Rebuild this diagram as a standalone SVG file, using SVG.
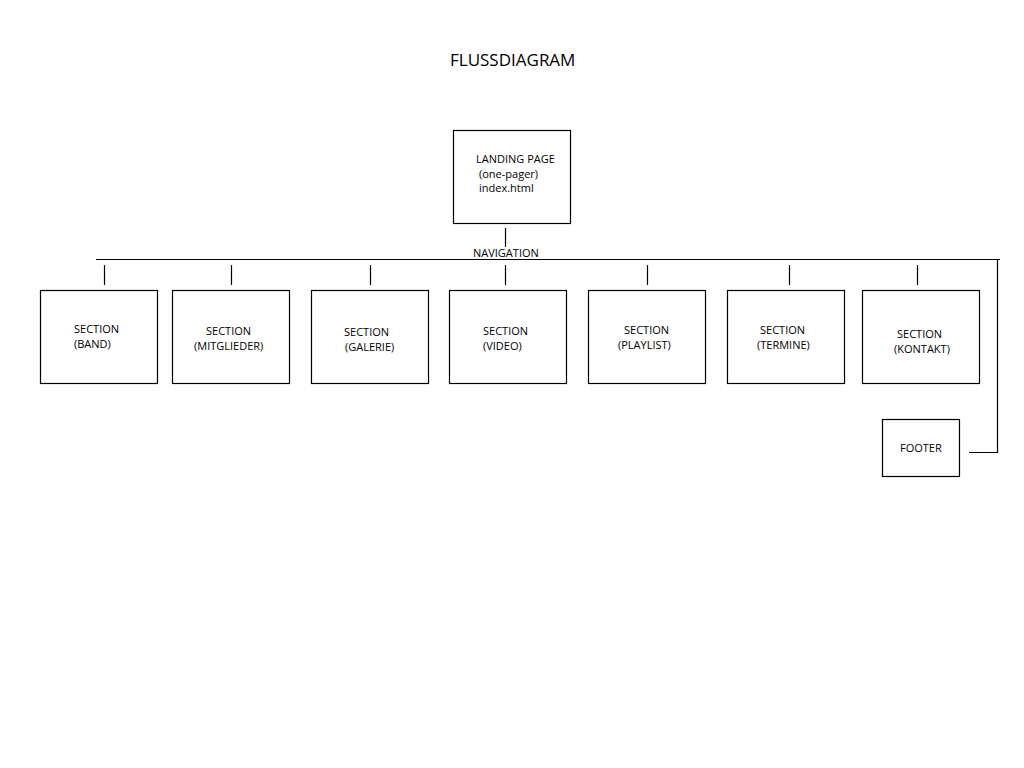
<svg xmlns="http://www.w3.org/2000/svg" width="1024" height="768" viewBox="0 0 1024 768">
<style>
text{font-family:"Open Sans","Liberation Sans",sans-serif;font-size:11px;fill:#000}
.title{font-size:17px}
.box{fill:#fff;stroke:#000;stroke-width:1.2}
.c{stroke:#000;stroke-width:1.2;fill:none}
</style>
<rect width="1024" height="768" fill="#fff"/>
<text class="title" x="450" y="66">FLUSSDIAGRAM</text>
<g id="connectors">
<path class="c" d="M505.5 228V247"/>
<path class="c" d="M96 259.5H1000"/>
<path class="c" d="M104.5 265V285M231.5 265V285M370.5 265V285M505.5 265V285M647.5 265V285M789.5 265V285M917.5 265V285"/>
<path class="c" d="M997.5 260V452.5H969"/>
<text x="473" y="257">NAVIGATION</text>
</g>
<g id="landing"><rect class="box" x="453.5" y="130.5" width="117" height="93"/>
<text x="476" y="163">LANDING PAGE</text><text x="479" y="178">(one-pager)</text><text x="479" y="192">index.html</text></g>
<g id="band"><rect class="box" x="40.5" y="290.5" width="117" height="93"/><text x="74" y="333">SECTION</text><text x="74" y="348">(BAND)</text></g>
<g id="mitglieder"><rect class="box" x="172.5" y="290.5" width="117" height="93"/><text x="206" y="335">SECTION</text><text x="194" y="350">(MITGLIEDER)</text></g>
<g id="galerie"><rect class="box" x="311.5" y="290.5" width="117" height="93"/><text x="344" y="336">SECTION</text><text x="345" y="351">(GALERIE)</text></g>
<g id="video"><rect class="box" x="449.5" y="290.5" width="117" height="93"/><text x="483" y="335">SECTION</text><text x="483" y="350">(VIDEO)</text></g>
<g id="playlist"><rect class="box" x="588.5" y="290.5" width="117" height="93"/><text x="624" y="334">SECTION</text><text x="618" y="349">(PLAYLIST)</text></g>
<g id="termine"><rect class="box" x="727.5" y="290.5" width="117" height="93"/><text x="760" y="334">SECTION</text><text x="757" y="349">(TERMINE)</text></g>
<g id="kontakt"><rect class="box" x="862.5" y="290.5" width="117" height="93"/><text x="897" y="338">SECTION</text><text x="894" y="353">(KONTAKT)</text></g>
<g id="footer"><rect class="box" x="882.5" y="419.5" width="77" height="57"/><text x="900" y="452">FOOTER</text></g>
</svg>
